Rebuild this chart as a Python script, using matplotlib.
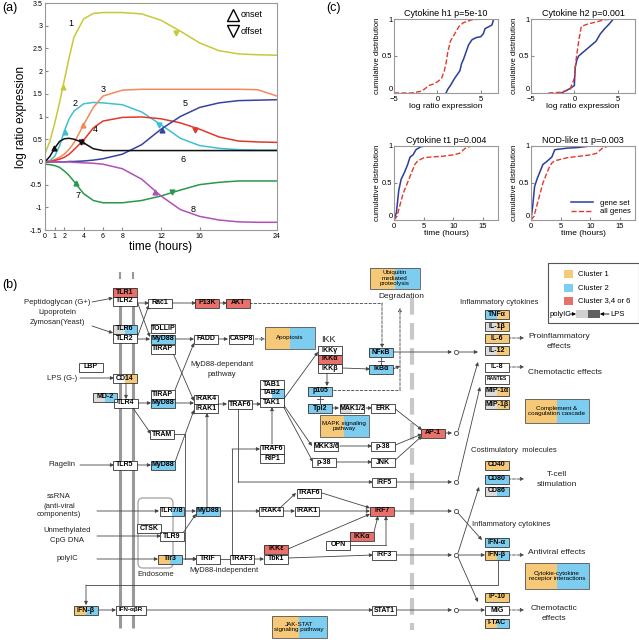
import numpy as np
import matplotlib.pyplot as plt
from matplotlib.patches import Rectangle, FancyBboxPatch

plt.rcParams['font.family'] = ['Liberation Sans', 'DejaVu Sans']

# ---------------- panel (a) data ----------------
t_hours = [0, 0.5, 1, 1.5, 2, 2.5, 3, 4, 5, 6, 8, 10, 12, 14, 16, 18, 20, 22, 24]
curve1 = [0.18, 0.45, 0.85, 1.3, 1.8, 2.3, 2.75, 3.15, 3.27, 3.29, 3.29, 3.26, 3.12, 2.88, 2.62, 2.45, 2.38, 2.36, 2.35]
curve2 = [0.0, 0.03, 0.12, 0.35, 0.68, 0.95, 1.12, 1.28, 1.31, 1.30, 1.26, 1.10, 0.82, 0.52, 0.36, 0.30, 0.27, 0.26, 0.26]
curve3 = [0.0, 0.02, 0.05, 0.10, 0.17, 0.28, 0.42, 0.82, 1.20, 1.45, 1.58, 1.60, 1.60, 1.60, 1.60, 1.60, 1.60, 1.59, 1.45]
curve4 = [0.0, 0.01, 0.03, 0.06, 0.10, 0.17, 0.27, 0.48, 0.75, 0.90, 0.98, 0.99, 0.95, 0.86, 0.72, 0.55, 0.46, 0.44, 0.43]
curve5 = [0.0, 0.0, 0.0, 0.0, 0.0, 0.01, 0.01, 0.02, 0.04, 0.07, 0.17, 0.38, 0.72, 1.00, 1.20, 1.30, 1.35, 1.36, 1.37]
curve6 = [0.0, 0.12, 0.30, 0.45, 0.51, 0.52, 0.50, 0.42, 0.29, 0.25, 0.25, 0.25, 0.25, 0.25, 0.25, 0.25, 0.25, 0.25, 0.25]
curve7 = [-0.05, -0.06, -0.08, -0.12, -0.20, -0.30, -0.43, -0.70, -0.85, -0.90, -0.90, -0.85, -0.75, -0.62, -0.50, -0.45, -0.42, -0.42, -0.42]
curve8 = [0.0, 0.0, 0.0, 0.0, 0.0, 0.0, -0.01, -0.02, -0.03, -0.05, -0.15, -0.38, -0.75, -1.05, -1.20, -1.28, -1.32, -1.33, -1.33]
curves = [curve1, curve2, curve3, curve4, curve5, curve6, curve7, curve8]
curve_colors = ['#c9c83a', '#3fc0d2', '#f2895a', '#e0392a', '#36449e', '#111111', '#27994a', '#b150b7']
# onset / offset (time, value); None where not marked
onsets = [(1.9, 1.66), (2.1, 0.66), (3.9, 0.82), (3.8, 0.45), (12.1, 0.71), (0.95, 0.31), (3.2, -0.46), (11.4, -0.66)]
offsets = [(13.6, 2.83), (11.8, 0.82), None, (15.5, 0.71), None, (3.7, 0.43), (13.1, -0.66), None]
curve_labels = [(2.65, 3.05), (3.1, 1.29), (6.0, 1.6), (5.2, 0.71), (14.5, 1.28), (14.3, 0.06), (3.4, -0.75), (15.3, -1.05)]

# ---------------- panel (c) data ----------------
h1_gene_x = [1.0, 1.2, 1.5, 2.0, 2.3, 2.6, 2.8, 3.0, 3.3, 3.6, 4.0, 4.5, 5.0, 5.3, 5.5, 6.0, 6.3, 6.5]
h1_gene_y = [0.0, 0.05, 0.10, 0.20, 0.25, 0.30, 0.40, 0.45, 0.55, 0.65, 0.72, 0.75, 0.76, 0.80, 0.87, 0.90, 0.92, 1.0]
h1_all_x = [-5, -3, -2, -1.5, -1, -0.5, 0, 0.5, 0.8, 1.0, 1.2, 1.5, 2, 2.5, 3, 4, 5, 6.5]
h1_all_y = [0.0, 0.0, 0.02, 0.05, 0.10, 0.12, 0.15, 0.20, 0.30, 0.40, 0.55, 0.70, 0.80, 0.90, 0.95, 0.99, 1.0, 1.0]
h2_gene_x = [-1.5, -1, -0.5, 0, 0.1, 0.3, 0.5, 1, 1.5, 2, 2.5, 3, 3.5, 4, 4.5]
h2_gene_y = [0.0, 0.03, 0.06, 0.10, 0.35, 0.45, 0.50, 0.55, 0.60, 0.65, 0.70, 0.80, 0.87, 0.93, 1.0]
h2_all_x = [-3, -1.5, -0.5, 0, 0.2, 0.5, 0.8, 1.5, 2.5, 3.5, 4.5]
h2_all_y = [0.0, 0.01, 0.05, 0.20, 0.45, 0.70, 0.90, 0.93, 0.96, 0.99, 1.0]
t1_gene_x = [0, 0.4, 0.8, 1.2, 1.8, 2.3, 2.7, 3.2, 3.7, 4.5, 5.3]
t1_gene_y = [0.0, 0.10, 0.40, 0.55, 0.65, 0.75, 0.85, 0.88, 0.95, 0.99, 1.0]
t1_all_x = [0, 0.5, 1, 1.5, 2, 2.5, 3, 3.5, 4, 5, 6, 8, 10, 11, 12, 13, 16]
t1_all_y = [0.0, 0.05, 0.20, 0.35, 0.45, 0.55, 0.65, 0.75, 0.80, 0.84, 0.85, 0.86, 0.88, 0.90, 0.97, 1.0, 1.0]
nod_gene_x = [0, 0.3, 0.6, 1, 1.5, 2, 2.5, 3.5, 4, 5, 6, 8, 10]
nod_gene_y = [0.0, 0.20, 0.45, 0.55, 0.65, 0.75, 0.78, 0.85, 0.95, 0.96, 0.97, 0.98, 1.0]
nod_all_x = [0, 0.5, 1, 1.5, 2, 2.5, 3, 3.5, 4, 6, 8, 10, 11, 12, 13, 17]
nod_all_y = [0.0, 0.05, 0.20, 0.35, 0.50, 0.60, 0.70, 0.77, 0.80, 0.84, 0.86, 0.88, 0.90, 0.97, 1.0, 1.0]
cdf_titles = ['Cytokine h1 p=5e-10', 'Cytokine h2 p=0.001', 'Cytokine t1 p=0.004', 'NOD-like t1 p=0.003']

fig = plt.figure(figsize=(6.39, 6.40), dpi=100)

# ---------------- panel (a) ----------------
ax = fig.add_axes([0.0704, 0.6406, 0.3631, 0.3547])
for i, y in enumerate(curves):
    ax.plot(t_hours, y, color=curve_colors[i], lw=1.1)
    if onsets[i]:
        ax.plot(*onsets[i], marker='^', ms=3.5, color=curve_colors[i])
    if offsets[i]:
        ax.plot(*offsets[i], marker='v', ms=3.5, color=curve_colors[i])
    ax.text(*curve_labels[i], str(i + 1), fontsize=6.5, ha='center', va='center')
ax.plot(19.4, 3.24, marker='^', ms=8, mfc='none', mec='black', mew=1)
ax.plot(19.4, 2.88, marker='v', ms=8, mfc='none', mec='black', mew=1)
ax.text(20.2, 3.24, 'onset', fontsize=6.5, va='center')
ax.text(20.2, 2.88, 'offset', fontsize=6.5, va='center')
ax.set_xlim(0, 24)
ax.set_ylim(-1.5, 3.5)
ax.set_xticks([0, 1, 2, 4, 6, 8, 12, 16, 24])
ax.set_yticks(np.arange(-1.5, 3.51, 0.5))
ax.set_yticklabels(['-1.5', '-1', '-0.5', '0', '0.5', '1', '1.5', '2', '2.5', '3', '3.5'])
ax.tick_params(direction='in', labelsize=5, length=2, pad=2, color='#888888')
for s in ax.spines.values():
    s.set_color('#999999')
ax.set_xlabel('time (hours)', fontsize=8.5, labelpad=1)
ax.set_ylabel('log ratio expression', fontsize=8.5, labelpad=2)

# ---------------- panel (c) ----------------
rects = [[0.6166, 0.8547, 0.1628, 0.1156], [0.8310, 0.8547, 0.1628, 0.1156],
         [0.6166, 0.6563, 0.1628, 0.1156], [0.8310, 0.6563, 0.1628, 0.1156]]
gene = [(h1_gene_x, h1_gene_y), (h2_gene_x, h2_gene_y), (t1_gene_x, t1_gene_y), (nod_gene_x, nod_gene_y)]
alls = [(h1_all_x, h1_all_y), (h2_all_x, h2_all_y), (t1_all_x, t1_all_y), (nod_all_x, nod_all_y)]
for k in range(4):
    cx = fig.add_axes(rects[k])
    cx.plot(*gene[k], color='#2c3c9c', lw=1.1, label='gene set')
    cx.plot(*alls[k], '--', color='#e2392b', lw=1.0, label='all genes')
    if k < 2:
        cx.set_xlim(-5, 7)
        cx.set_xticks([-5, 0, 5])
        cx.set_xlabel('log ratio expression', fontsize=6, labelpad=0)
    else:
        cx.set_xlim(0, 17.5)
        cx.set_xticks([0, 5, 10, 15])
        cx.set_xlabel('time (hours)', fontsize=6, labelpad=0)
    cx.set_ylim(0, 1)
    cx.set_yticks([0, 0.5, 1])
    cx.set_yticklabels(['0', '0.5', '1'])
    cx.get_yticklabels()[0].set_va('bottom')
    cx.tick_params(direction='in', labelsize=5.5, length=2, pad=1, color='#888888')
    cx.tick_params(axis='x', pad=2)
    for s in cx.spines.values():
        s.set_color('#999999')
    cx.set_ylabel('cumulative distribution', fontsize=5.5, labelpad=1)
    cx.set_title(cdf_titles[k], fontsize=6.5, pad=2)
    if k == 3:
        cx.legend(loc='lower right', fontsize=5.5, frameon=False, handlelength=3,
                  borderaxespad=0.2, labelspacing=0.2)

# ---------------- panel (b) diagram, pixel coordinates ----------------
dx = fig.add_axes([0, 0, 1, 1], zorder=-1)
dx.set_xlim(0, 639)
dx.set_ylim(640, 0)
dx.axis('off')

O, B, R, W, G = '#f6c979', '#7ccdef', '#e8706a', 'white', '#dcdcdc'
LC = '#444444'

dx.text(2, 8, '(a)', fontsize=9, va='center')
dx.text(2, 285, '(b)', fontsize=9, va='center')
dx.text(326, 8, '(c)', fontsize=9, va='center')

# membranes
for x in (120, 133):
    dx.plot([x, x], [288, 628], color='#999999', lw=2.2, zorder=1, solid_capstyle='butt')
    dx.plot([x, x], [273, 278], color='#999999', lw=1.5, zorder=1)
dx.plot([412, 412], [298, 630], color='#c8c8c8', lw=3, dashes=(4, 2), zorder=1)
dx.add_patch(FancyBboxPatch((138, 498), 35, 70, boxstyle='round,pad=0,rounding_size=5',
                            fill=False, edgecolor='#aaaaaa', lw=1, zorder=1))


def link(pts, style='a'):
    xs = [p[0] for p in pts]
    ys = [p[1] for p in pts]
    ls = '--' if style in ('d', 'o') else '-'
    if len(pts) > 2:
        dx.plot(xs[:-1], ys[:-1], color=LC, lw=0.6, ls=ls, zorder=2)
    if style == 'n':
        dx.plot(xs[-2:], ys[-2:], color=LC, lw=0.6, zorder=2)
        return
    dx.annotate('', xy=pts[-1], xytext=pts[-2], zorder=2,
                arrowprops=dict(arrowstyle='-|>', color=LC, lw=0.6, ls=ls,
                                mutation_scale=5, shrinkA=0, shrinkB=0,
                                fc=(LC if style != 'o' else 'white')))


links = [
    ([(92, 302), (113, 298)], 'a'), ([(92, 326), (113, 333)], 'a'),
    ([(137, 303), (149, 303)], 'a'), ([(171, 303), (196, 303)], 'a'), ([(218, 303), (227, 303)], 'a'),
    ([(249, 303), (382, 303), (382, 348)], 'd'),
    ([(137, 301), (150, 337)], 'a'), ([(137, 338), (149, 305)], 'a'),
    ([(137, 339), (150, 339)], 'a'), ([(176, 339), (194, 339)], 'a'), ([(219, 339), (228, 339)], 'a'),
    ([(255, 339), (265, 339)], 'o'),
    ([(80, 378), (114, 378)], 'a'), ([(126, 382), (126, 399)], 'a'),
    ([(137, 403), (151, 403)], 'a'), ([(175, 403), (194, 403)], 'a'),
    ([(173, 353), (194, 401)], 'a'), ([(175, 390), (194, 343)], 'a'),
    ([(133, 408), (151, 434)], 'a'),
    ([(173, 434), (185, 434), (185, 559), (197, 559)], 'a'),
    ([(80, 465), (114, 465)], 'a'), ([(137, 465), (151, 465)], 'a'),
    ([(175, 462), (194, 410)], 'a'), ([(207, 507), (207, 413)], 'a'),
    ([(218, 404), (227, 404)], 'a'), ([(252, 404), (261, 404)], 'a'),
    ([(238, 408), (238, 482), (373, 482)], 'a'),
    ([(232, 555), (232, 449), (260, 449)], 'a'),
    ([(272, 444), (272, 407)], 'a'),
    ([(283, 400), (318, 352)], 'a'), ([(283, 404), (312, 446)], 'a'), ([(283, 406), (313, 462)], 'a'),
    ([(340, 446), (372, 446)], 'a'), ([(335, 462), (372, 462)], 'a'),
    ([(327, 373), (327, 386)], 'a'), ([(342, 368), (370, 369)], 'a'),
    ([(332, 408), (339, 408)], 'a'), ([(366, 408), (372, 408)], 'a'),
    ([(333, 390), (400, 390), (400, 308)], 'o'),
    ([(393, 369), (400, 366)], 'd'),
    ([(394, 408), (422, 430)], 'a'), ([(393, 446), (422, 434)], 'a'), ([(393, 462), (422, 436)], 'a'),
    ([(393, 352), (452, 352)], 'a'), ([(445, 433), (452, 433)], 'a'),
    ([(395, 482), (452, 482)], 'a'), ([(393, 511), (452, 511)], 'a'),
    ([(395, 555), (452, 555)], 'a'), ([(395, 610), (452, 610)], 'a'),
    ([(459, 352), (478, 352)], 'a'), ([(458, 431), (478, 362)], 'a'),
    ([(458, 480), (480, 387)], 'a'), ([(458, 513), (482, 540)], 'a'),
    ([(459, 555), (485, 555)], 'a'), ([(458, 553), (479, 487)], 'a'),
    ([(458, 557), (478, 602)], 'a'), ([(459, 610), (485, 610)], 'a'),
    ([(508, 338), (524, 338)], 'd'), ([(508, 367), (524, 367)], 'd'),
    ([(508, 479), (524, 479)], 'd'), ([(508, 555), (524, 555)], 'd'),
    ([(508, 610), (524, 610)], 'd'),
    ([(498, 560), (498, 585), (86, 585), (86, 605)], 'a'),
    ([(98, 610), (116, 610)], 'a'), ([(146, 610), (373, 610)], 'a'),
    ([(97, 511), (159, 511)], 'a'), ([(97, 536), (161, 536)], 'a'), ([(97, 559), (158, 559)], 'a'),
    ([(185, 511), (196, 511)], 'a'), ([(183, 533), (196, 514)], 'a'), ([(182, 559), (197, 559)], 'a'),
    ([(220, 511), (260, 511)], 'a'), ([(283, 511), (295, 511)], 'a'), ([(281, 507), (296, 493)], 'a'),
    ([(322, 493), (370, 508)], 'a'), ([(318, 511), (370, 511)], 'a'),
    ([(218, 559), (230, 559)], 'n'), ([(254, 559), (264, 559)], 'a'),
    ([(288, 558), (373, 555)], 'a'), ([(288, 549), (370, 514)], 'a'),
    ([(373, 536), (378, 516)], 'a'), ([(350, 545), (386, 545), (386, 516)], 'a'),
    ([(381, 357), (381, 365)], 'n'), ([(320, 395), (320, 403)], 'n'),
]
for pts, st in links:
    link(pts, st)
for y in (352, 433, 482, 511, 555, 610):
    dx.plot(456, y, 'o', ms=3, mfc='white', mec=LC, mew=0.6, zorder=3)
for x, y in ((381, 361), (320, 399)):
    dx.plot([x - 3, x + 3], [y, y], color=LC, lw=0.6, zorder=2)


def node(cx, cy, text, fill, w=24, h=9, fs=5):
    fills = fill if isinstance(fill, tuple) else (fill,)
    n = len(fills)
    for i, c in enumerate(fills):
        dx.add_patch(Rectangle((cx - w / 2 + i * w / n, cy - h / 2), w / n, h,
                               facecolor=c, edgecolor='none', zorder=3))
    dx.add_patch(Rectangle((cx - w / 2, cy - h / 2), w, h, fill=False,
                           edgecolor='#333333', lw=0.6, zorder=4))
    dx.text(cx, cy, text, ha='center', va='center', fontsize=fs, fontweight='bold', zorder=5)


nodes = [
    (125, 292, 'TLR1', R), (125, 301, 'TLR2', W),
    (160, 303, 'Rac1', W), (207, 303, 'P13K', R), (238, 303, 'AKT', R),
    (125, 329, 'TLR6', (G, B)), (125, 338, 'TLR2', W),
    (163, 328, 'TOLLIP', W), (163, 339, 'MyD88', B), (163, 349, 'TIRAP', W),
    (206, 339, 'FADD', W), (241, 339, 'CASP8', W),
    (91, 367, 'LBP', W), (125, 378, 'CD14', (W, O)), (105, 397, 'MD-2', (G, B)), (126, 403, 'TLR4', W),
    (163, 394, 'TIRAP', W), (163, 403, 'MyD88', B), (206, 399, 'IRAK4', W), (206, 408, 'IRAK1', W),
    (162, 434, 'TRAM', W), (125, 465, 'TLR5', W), (163, 465, 'MyD88', B),
    (240, 404, 'TRAF6', W), (272, 384, 'TAB1', W), (272, 393, 'TAB2', (W, B)), (272, 402, 'TAK1', W),
    (272, 449, 'TRAF6', W), (272, 458, 'RIP1', W),
    (330, 350, 'IKKγ', W), (330, 359, 'IKKα', R), (330, 368, 'IKKβ', W),
    (381, 352, 'NFκB', B), (381, 369, 'IκBα', B),
    (320, 391, 'p105', B), (320, 408, 'Tpl2', B), (352, 408, 'MAK1/2', (G, W)), (383, 408, 'ERK', W),
    (326, 446, 'MKK3/6', W), (383, 446, 'p-38', W), (324, 462, 'p-38', W), (383, 462, 'JNK', W),
    (433, 433, 'AP-1', R),
    (384, 482, 'IRF5', W), (382, 511, 'IRF7', R), (384, 555, 'IRF3', W), (384, 610, 'STAT1', W),
    (309, 493, 'TRAF6', W), (271, 511, 'IRAK4', W), (307, 511, 'IRAK1', W),
    (362, 536, 'IKKα', R), (338, 545, 'OPN', W),
    (276, 549, 'IKKε', R), (276, 559, 'Tbk1', W), (242, 559, 'TRAF3', W), (208, 559, 'TRIF', W),
    (208, 511, 'MyD88', B), (172, 511, 'TLR7/8', (W, B)), (149, 528, 'CTSK', W),
    (172, 536, 'TLR9', W), (170, 559, 'Tlr3', (O, B)),
    (86, 610, 'IFN-β', (O, B)),
    (497, 314, 'TNFα', (B, O)), (497, 326, 'IL-1β', (G, O)), (497, 338, 'IL-6', O),
    (497, 350, 'IL-12', (G, O)), (497, 367, 'IL-8', W), (497, 391, 'MIP-1α', (G, O)),
    (497, 404, 'MIP-1β', (G, O)),
    (497, 465, 'CD40', O), (497, 479, 'CD80', B), (497, 491, 'CD86', (G, B)),
    (497, 542, 'IFN-α', B), (497, 555, 'IFN-β', (O, B)),
    (497, 597, 'IP-10', O), (497, 610, 'MIG', W), (497, 623, 'I-TAC', (O, B)),
]
for cx_, cy_, lab, fill in nodes:
    node(cx_, cy_, lab, fill)
node(131, 610, 'IFN-αβR', W, w=30, fs=4.5)
node(497, 379, 'RANTES', W, fs=3.5)

pathways = [
    (395, 278, 'Ubiquitin\nmediated\nproteolysis', 50, 21),
    (290, 338, 'Apoptosis', 50, 22),
    (344, 426, 'MAPK signaling\npathway', 49, 22),
    (557, 411, 'Complement &\ncoagulation cascade', 64, 24),
    (557, 576, 'Cytokie-cytokine\nreceptor interactions', 64, 26),
    (299, 627, 'JAK-STAT\nsignaling pathway', 55, 22),
]
for cx_, cy_, lab, w, h in pathways:
    dx.add_patch(Rectangle((cx_ - w / 2, cy_ - h / 2), w / 2, h, facecolor=O, edgecolor='none', zorder=3))
    dx.add_patch(Rectangle((cx_, cy_ - h / 2), w / 2, h, facecolor=B, edgecolor='none', zorder=3))
    dx.add_patch(Rectangle((cx_ - w / 2, cy_ - h / 2), w, h, fill=False, edgecolor='#555555', lw=0.6, zorder=4))
    dx.text(cx_, cy_, lab, ha='center', va='center', fontsize=4.5, zorder=5, linespacing=1.1)

texts = [
    (57, 302, 'Peptidoglycan (G+)', 'center', 5.5), (57, 312, 'Lipoprotein', 'center', 5.5),
    (57, 322, 'Zymosan(Yeast)', 'center', 5.5),
    (62, 378, 'LPS (G-)', 'center', 5.5), (62, 465, 'Flagelin', 'center', 5.5),
    (59, 496, 'ssRNA', 'center', 5.5), (59, 506, '(anti-viral', 'center', 5.5),
    (59, 515, 'components)', 'center', 5.5),
    (67, 531, 'Unmethylated', 'center', 5.5), (67, 540, 'CpG DNA', 'center', 5.5),
    (67, 559, 'polyIC', 'center', 5.5),
    (156, 575, 'Endosome', 'center', 5.5),
    (222, 365, 'MyD88-dependant', 'center', 5.5), (222, 375, 'pathway', 'center', 5.5),
    (224, 571, 'MyD88-independent', 'center', 5.5),
    (328, 339, 'IKK', 'center', 6.5), (401, 296, 'Degradation', 'center', 6),
    (499, 302, 'Inflammatory cytokines', 'center', 5.5),
    (511, 524, 'Inflammatory cytokines', 'center', 5.5),
    (514, 451, 'Costimulatory  molecules', 'center', 5.5),
    (559, 337, 'Proinflammatory', 'center', 6), (559, 347, 'effects', 'center', 6),
    (528, 372, 'Chemotactic effects', 'left', 6),
    (557, 474, 'T-cell', 'center', 6), (557, 484, 'stimulation', 'center', 6),
    (528, 552, 'Antiviral effects', 'left', 6),
    (554, 609, 'Chemotactic', 'center', 6), (554, 619, 'effects', 'center', 6),
]
for x, y, s, ha, fs in texts:
    dx.text(x, y, s, ha=ha, va='center', fontsize=fs, color='#222222', zorder=5)

# cluster legend
dx.add_patch(Rectangle((548, 263), 91, 60, facecolor='white', edgecolor='#555555', lw=0.8, zorder=3))
for y, c, s in ((274, O, 'Cluster 1'), (288, B, 'Cluster 2'), (301, R, 'Cluster 3,4 or 6')):
    dx.add_patch(Rectangle((564, y - 4), 9, 8, facecolor=c, edgecolor='none', zorder=4))
    dx.text(578, y, s, fontsize=5.5, va='center', zorder=5)
dx.text(550, 314, 'polyIC', fontsize=5.5, va='center', zorder=5)
dx.add_patch(Rectangle((576, 310), 12, 8, facecolor='#d0d0d0', edgecolor='none', zorder=4))
dx.add_patch(Rectangle((588, 310), 12, 8, facecolor='#606060', edgecolor='none', zorder=4))
dx.annotate('', xy=(576, 314), xytext=(569, 314), zorder=5,
            arrowprops=dict(arrowstyle='-|>', color='black', lw=0.6, mutation_scale=5, shrinkA=0, shrinkB=0))
dx.annotate('', xy=(600, 314), xytext=(609, 314), zorder=5,
            arrowprops=dict(arrowstyle='-|>', color='black', lw=0.6, mutation_scale=5, shrinkA=0, shrinkB=0))
dx.text(610, 314, 'LPS', fontsize=5.5, va='center', zorder=5)

fig.savefig('out.png', dpi=100)
